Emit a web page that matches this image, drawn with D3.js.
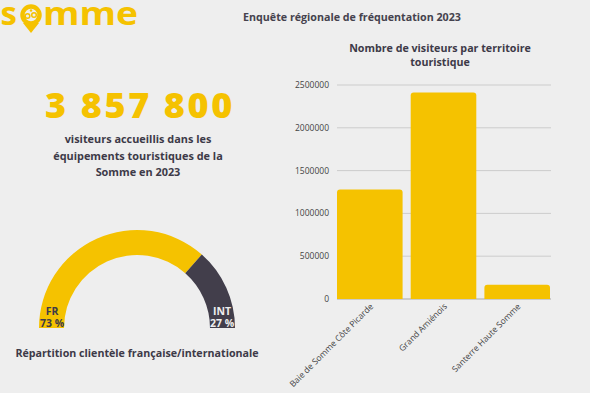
<!DOCTYPE html>
<html><head><meta charset="utf-8">
<script src="https://cdn.jsdelivr.net/npm/d3@7"></script>
<style>html,body{margin:0;padding:0;background:#eeeeee;}svg{display:block;font-family:"Open Sans",sans-serif;}</style>
</head><body>
<svg id="c" width="590" height="393"></svg>
<script>
const territories = ["Baie de Somme Côte Picarde", "Grand Amiénois", "Santerre Haute Somme"];
const visitors = [1278000, 2412000, 167800];
const yTicks = [0, 500000, 1000000, 1500000, 2000000, 2500000];
const gaugeLabels = ["FR", "INT"];
const gaugeShares = [73, 27];
const totalVisitors = "3 857 800";

const YEL = "#f5c200", DARK = "#423e4b", TXT = "#3d3a48";
const svg = d3.select("#c");
svg.append("rect").attr("width",590).attr("height",393).attr("fill","#eeeeee");

// Logo
const logo = svg.append("g");
logo.append("text").attr("x",0.5).attr("y",25).attr("font-size",33).attr("font-weight",700)
  .attr("fill",YEL).text("s");
logo.append("path").attr("d","M23,23 L31,33 L39,23 Z").attr("fill",YEL);
logo.append("circle").attr("cx",31).attr("cy",15).attr("r",8.5).attr("fill","none").attr("stroke",YEL).attr("stroke-width",4.5);
logo.append("circle").attr("cx",27.5).attr("cy",16).attr("r",2.3).attr("fill","none").attr("stroke",YEL).attr("stroke-width",1.5);
logo.append("circle").attr("cx",34).attr("cy",15).attr("r",2.3).attr("fill","none").attr("stroke",YEL).attr("stroke-width",1.5);
logo.append("circle").attr("cx",31).attr("cy",10.5).attr("r",1.2).attr("fill",YEL);
logo.append("text").attr("x",43).attr("y",25).attr("font-size",33).attr("font-weight",700)
  .attr("fill",YEL).attr("textLength",95).attr("lengthAdjust","spacingAndGlyphs").text("mme");

// Header
svg.append("text").attr("x",352).attr("y",21).attr("text-anchor","middle").attr("font-size",10.7)
  .attr("font-weight",700).attr("fill","#45424d").text("Enquête régionale de fréquentation 2023");

// Big number
svg.append("text").attr("x",140).attr("y",118).attr("text-anchor","middle").attr("font-size",36)
  .attr("letter-spacing",2.6).attr("font-weight",800).attr("fill",YEL).text(totalVisitors);
["visiteurs accueillis dans les","équipements touristiques de la","Somme en 2023"].forEach((t,i)=>{
  svg.append("text").attr("x",138).attr("y",143+i*16.5).attr("text-anchor","middle").attr("font-size",10.9)
    .attr("font-weight",700).attr("fill",TXT).text(t);
});

// Gauge
const gcx = 137, gcy = 328;
const g = svg.append("g").attr("transform",`translate(${gcx},${gcy})`);
const pie = d3.pie().sort(null).startAngle(-Math.PI/2).endAngle(Math.PI/2);
const arcs = pie(gaugeShares);
const arc = d3.arc().innerRadius(73).outerRadius(98);
g.selectAll("path.s").data(arcs).join("path").attr("d",arc).attr("fill",(d,i)=>i===0?YEL:DARK);
const gl = [{x:-85, c:TXT},{x:85, c:"#eeeeee"}];
gaugeLabels.forEach((l,i)=>{
  g.append("text").attr("x",gl[i].x).attr("y",-13).attr("text-anchor","middle").attr("font-size",10.5).attr("font-weight",700).attr("fill",gl[i].c).text(l);
  g.append("text").attr("x",gl[i].x).attr("y",-1).attr("text-anchor","middle").attr("font-size",10.5).attr("font-weight",700).attr("fill",gl[i].c).text(gaugeShares[i]+" %");
});
svg.append("text").attr("x",137).attr("y",357).attr("text-anchor","middle").attr("font-size",10.7)
  .attr("font-weight",700).attr("fill",TXT).text("Répartition clientèle française/internationale");

// Bar chart
svg.append("text").attr("x",440).attr("y",52).attr("text-anchor","middle").attr("font-size",10.7).attr("font-weight",700).attr("fill",TXT).text("Nombre de visiteurs par territoire");
svg.append("text").attr("x",440).attr("y",66).attr("text-anchor","middle").attr("font-size",10.7).attr("font-weight",700).attr("fill",TXT).text("touristique");

const x = d3.scaleBand().domain(territories).range([337,550]).paddingInner(0.11).paddingOuter(0);
const y = d3.scaleLinear().domain([0,2500000]).range([299,85]);
const grid = svg.append("g");
yTicks.forEach(t=>{
  grid.append("line").attr("x1",337).attr("x2",551).attr("y1",y(t)).attr("y2",y(t))
    .attr("stroke", t===0?"#a8a8a8":"#cccccc").attr("stroke-width",1);
  grid.append("text").attr("x",329).attr("y",y(t)+3).attr("text-anchor","end").attr("font-size",8.5).attr("fill","#444").text(t);
});
const r = 3;
svg.selectAll("path.bar").data(territories).join("path").attr("class","bar").attr("fill",YEL)
  .attr("d",(d,i)=>{
    const x0=x(d), w=x.bandwidth(), y0=y(visitors[i]), yb=y(0);
    return `M${x0},${yb}V${y0+r}Q${x0},${y0} ${x0+r},${y0}H${x0+w-r}Q${x0+w},${y0} ${x0+w},${y0+r}V${yb}Z`;
  });
territories.forEach(d=>{
  const cx = x(d)+x.bandwidth()/2+4;
  svg.append("text").attr("transform",`translate(${cx},307) rotate(-45)`).attr("text-anchor","end")
    .attr("font-size",8.5).attr("fill","#444").text(d);
});
</script>
</body></html>
